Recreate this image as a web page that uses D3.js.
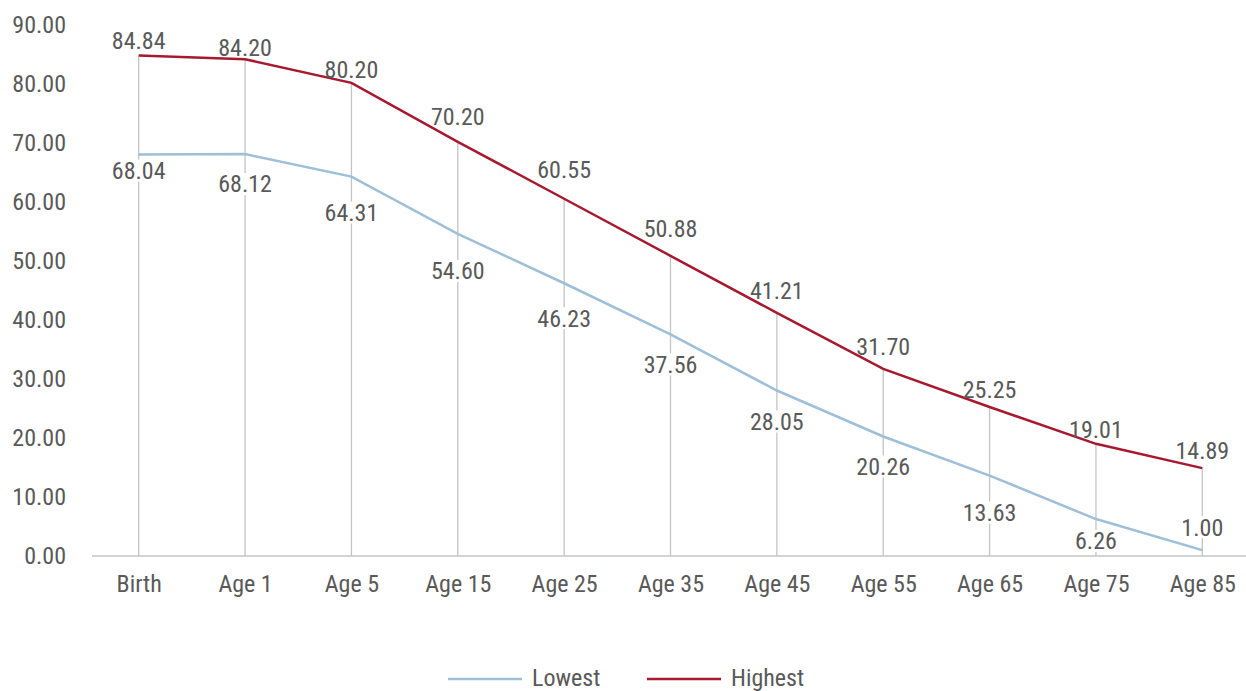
<!DOCTYPE html>
<html>
<head>
<meta charset="utf-8">
<script src="https://cdn.jsdelivr.net/npm/d3@7"></script>
<style>
  body { margin: 0; background: #fff; }
  svg text { font-family: "Liberation Sans Narrow", "Roboto Condensed", "DejaVu Sans Condensed", "Arial Narrow", sans-serif; fill: #595959; }
</style>
</head>
<body>
<div id="chart"></div>
<script>
// data
var categories = ['Birth', 'Age 1', 'Age 5', 'Age 15', 'Age 25', 'Age 35', 'Age 45', 'Age 55', 'Age 65', 'Age 75', 'Age 85'];
var highest = [84.84, 84.20, 80.20, 70.20, 60.55, 50.88, 41.21, 31.70, 25.25, 19.01, 14.89];
var lowest = [68.04, 68.12, 64.31, 54.60, 46.23, 37.56, 28.05, 20.26, 13.63, 6.26, 1.00];
var yTicks = [0, 10, 20, 30, 40, 50, 60, 70, 80, 90];
var seriesNames = ['Lowest', 'Highest'];

var W = 1246, H = 691;
var RED = '#a6192e', BLUE = '#9dbfd8', GRID = '#c4c4c4';
var FS = 24;

// label nudges (px from the point), like the hand placed labels of the original
var nudgeHigh = [-15, -12, -13, -25, -29, -27, -22, -22, -17, -14, -18];
var nudgeLow = [16, 30, 36, 37, 35, 30, 31, 30, 37, 22, -23];

var svg = d3.select('#chart').append('svg')
    .attr('width', W)
    .attr('height', H);

var x = d3.scalePoint().domain(categories).range([138.7, 1202.3]);
var y = d3.scaleLinear().domain([0, 90]).range([556, 25]);

// y axis labels (no line, no ticks)
var yAxis = svg.append('g')
    .attr('transform', 'translate(66,0)')
    .call(d3.axisLeft(y).tickValues(yTicks).tickSize(0).tickPadding(0).tickFormat(d3.format('.2f')));
yAxis.select('.domain').remove();
yAxis.selectAll('text').attr('font-size', FS).style('fill', '#595959');

// drop lines from highest to the baseline
svg.append('g').selectAll('line')
    .data(categories)
    .enter()
    .append('line')
    .attr('x1', function(d){ return x(d); })
    .attr('x2', function(d){ return x(d); })
    .attr('y1', function(d, i){ return y(highest[i]); })
    .attr('y2', y(0))
    .attr('stroke', GRID)
    .attr('stroke-width', 1.3);

// x axis
var xAxis = svg.append('g')
    .attr('transform', 'translate(0,' + y(0) + ')')
    .call(d3.axisBottom(x).tickSize(0).tickPadding(19));
xAxis.select('.domain').remove();
xAxis.selectAll('text').attr('font-size', FS).style('fill', '#595959');
svg.append('line')
    .attr('x1', 92).attr('x2', W)
    .attr('y1', y(0)).attr('y2', y(0))
    .attr('stroke', GRID).attr('stroke-width', 1.5);

var line = d3.line()
    .x(function(d, i){ return x(categories[i]); })
    .y(function(d){ return y(d); });

svg.append('path').datum(lowest)
    .attr('d', line).attr('fill', 'none')
    .attr('stroke', BLUE).attr('stroke-width', 2.5);
svg.append('path').datum(highest)
    .attr('d', line).attr('fill', 'none')
    .attr('stroke', RED).attr('stroke-width', 2.5);

// highest labels above
svg.append('g').selectAll('text')
    .data(highest)
    .enter()
    .append('text')
    .attr('x', function(d, i){ return x(categories[i]); })
    .attr('y', function(d, i){ return y(d) + nudgeHigh[i]; })
    .attr('dy', '0.35em')
    .attr('text-anchor', 'middle')
    .attr('font-size', FS)
    .text(function(d){ return d.toFixed(2); });

// lowest labels, on a white box over the drop line
var lowG = svg.append('g').selectAll('g')
    .data(lowest)
    .enter()
    .append('g')
    .attr('transform', function(d, i){ return 'translate(' + x(categories[i]) + ',' + (y(d) + nudgeLow[i]) + ')'; });
lowG.append('rect')
    .attr('x', -29).attr('y', -11).attr('width', 58).attr('height', 22)
    .attr('fill', '#fff');
lowG.append('text')
    .attr('text-anchor', 'middle')
    .attr('dy', '0.35em')
    .attr('font-size', FS)
    .text(function(d){ return d.toFixed(2); });

// legend
var legend = svg.append('g');
var legendItems = [
    {name: seriesNames[0], color: BLUE, x: 448},
    {name: seriesNames[1], color: RED, x: 647}
];
legendItems.forEach(function(it){
    legend.append('line')
        .attr('x1', it.x).attr('x2', it.x + 74)
        .attr('y1', 679).attr('y2', 679)
        .attr('stroke', it.color).attr('stroke-width', 2.5);
    legend.append('text')
        .attr('x', it.x + 84).attr('y', 678)
        .attr('dy', '0.35em')
        .attr('font-size', FS)
        .text(it.name);
});
</script>
</body>
</html>
